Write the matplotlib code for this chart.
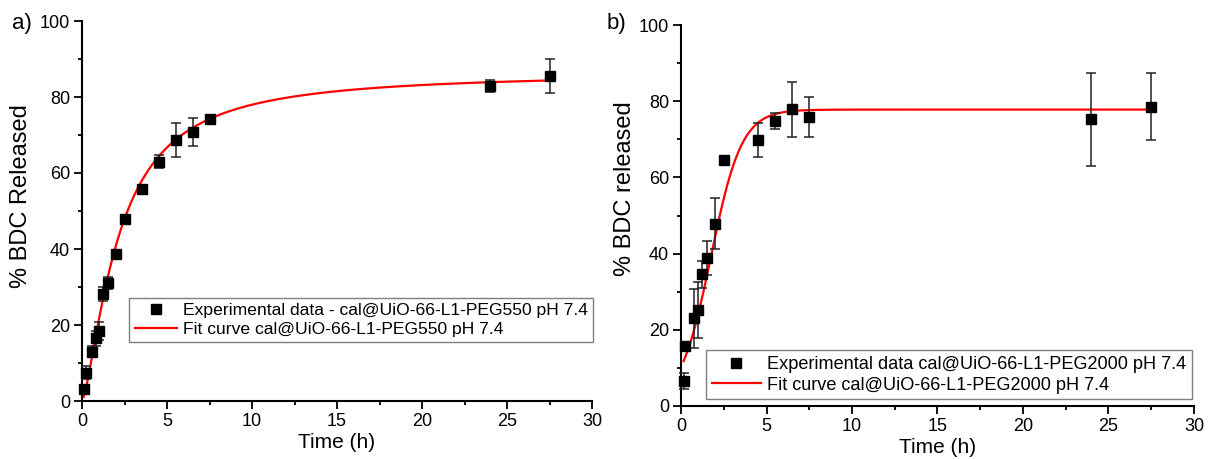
import numpy as np
import matplotlib
matplotlib.use("Agg")
import matplotlib.pyplot as plt
from matplotlib.lines import Line2D

plt.rcParams["font.family"] = ["Liberation Sans", "DejaVu Sans"]

# ---- release data, cal@UiO-66-L1-PEG550 (pH 7.4) ----
time_a = [0.1, 0.25, 0.6, 0.8, 1.0, 1.25, 1.5, 2.0, 2.5, 3.5, 4.5, 5.5, 6.5, 7.5, 24.0, 27.5]
rel_a = [3.1, 7.5, 13.0, 16.5, 18.4, 28.2, 31.1, 38.6, 47.9, 55.8, 63.0, 68.6, 70.9, 74.1, 82.9, 85.5]
err_a = [1.0, 1.8, 1.5, 2.0, 2.4, 1.8, 1.5, 0.8, 0.8, 0.8, 1.7, 4.5, 3.7, 0.8, 1.5, 4.5]
# Hill fit: Vmax * t^n / (K^n + t^n)
fit_a = {"vmax": 86.5, "k": 2.15, "n": 1.44}

# ---- release data, cal@UiO-66-L1-PEG2000 (pH 7.4) ----
time_b = [0.15, 0.25, 0.75, 1.0, 1.25, 1.5, 2.0, 2.5, 4.5, 5.5, 6.5, 7.5, 24.0, 27.5]
rel_b = [6.6, 15.7, 23.0, 25.2, 34.6, 38.8, 47.9, 64.6, 69.8, 74.8, 77.9, 75.8, 75.2, 78.6]
err_b = [2.1, 1.2, 7.8, 7.3, 3.5, 4.5, 6.6, 0.8, 4.5, 2.2, 7.2, 5.3, 12.2, 8.7]
# Boltzmann fit: A2 + (A1 - A2) / (1 + exp((t - x0) / dx))
fit_b = {"a1": 0.6, "a2": 77.8, "x0": 1.75, "dx": 0.9}

label_exp_a = "Experimental data - cal@UiO-66-L1-PEG550 pH 7.4"
label_fit_a = "Fit curve cal@UiO-66-L1-PEG550 pH 7.4"
label_exp_b = "Experimental data cal@UiO-66-L1-PEG2000 pH 7.4"
label_fit_b = "Fit curve cal@UiO-66-L1-PEG2000 pH 7.4"


def hill(t, vmax, k, n):
    return vmax * t ** n / (k ** n + t ** n)


def boltzmann(t, a1, a2, x0, dx):
    return a2 + (a1 - a2) / (1 + np.exp((t - x0) / dx))


W, H = 1208, 459
fig = plt.figure(figsize=(W / 100, H / 100), dpi=100)

ax_a = fig.add_axes([82 / W, 1 - 401 / H, 510 / W, 380 / H])
ax_b = fig.add_axes([681 / W, 1 - 406 / H, 513 / W, 381 / H])


def style_axes(ax, ylabel, label_xy):
    ax.set_xlim(0, 30)
    ax.set_ylim(0, 100)
    ax.set_xticks(np.arange(0, 31, 5))
    ax.set_xticks(np.arange(2.5, 30, 5), minor=True)
    ax.set_yticks(np.arange(0, 101, 20))
    ax.set_yticks(np.arange(10, 100, 20), minor=True)
    for side in ("top", "right"):
        ax.spines[side].set_visible(False)
    for side in ("left", "bottom"):
        ax.spines[side].set_linewidth(1.5)
    ax.tick_params(which="major", direction="out", length=5.5, width=1.3,
                   labelsize=13, pad=3)
    ax.tick_params(which="minor", direction="out", length=3, width=1.3)
    ax.set_xlabel("Time (h)", fontsize=15, labelpad=2)
    ax.set_ylabel(ylabel, fontsize=17, va="center")
    ax.yaxis.set_label_coords(*label_xy)


def draw(ax, t, y, e, curve):
    tt = np.linspace(min(t), max(t), 400)
    ax.plot(tt, curve(tt), color="#ff0000", lw=1.6, zorder=3)
    ax.errorbar(t, y, yerr=e, fmt="s", color="black", ms=6.8,
                ecolor="#222222", elinewidth=1.1, capsize=3.5, capthick=1.1,
                zorder=4, clip_on=False)


draw(ax_a, time_a, rel_a, err_a, lambda t: hill(t, **fit_a))
draw(ax_b, time_b, rel_b, err_b, lambda t: boltzmann(t, **fit_b))
style_axes(ax_a, "% BDC Released", (-0.12, 0.54))
style_axes(ax_b, "% BDC released", (-0.109, 0.571))


def add_legend(ax, lab_exp, lab_fit, anchor, fs, hl):
    handles = [
        Line2D([], [], ls="none", marker="s", color="black", ms=6.8),
        Line2D([], [], color="#ff0000", lw=1.6),
    ]
    leg = ax.legend(handles, [lab_exp, lab_fit], loc="lower right",
                    bbox_to_anchor=anchor, bbox_transform=fig.transFigure,
                    borderaxespad=0, fontsize=fs, frameon=True, fancybox=False,
                    framealpha=1, edgecolor="#7f7f7f", handlelength=hl,
                    handletextpad=0.35, labelspacing=0.2, borderpad=0.3)
    leg.get_frame().set_linewidth(1.0)


add_legend(ax_a, label_exp_a, label_fit_a, (593 / W, 1 - 342 / H), 12.6, 2.4)
add_legend(ax_b, label_exp_b, label_fit_b, (1192 / W, 1 - 399 / H), 13.1, 2.7)

fig.text(22 / W, 1 - 23 / H, "a)", fontsize=16, ha="center", va="center")
fig.text(616 / W, 1 - 23 / H, "b)", fontsize=16, ha="center", va="center")

fig.savefig("out.png", dpi=100, facecolor="white")
